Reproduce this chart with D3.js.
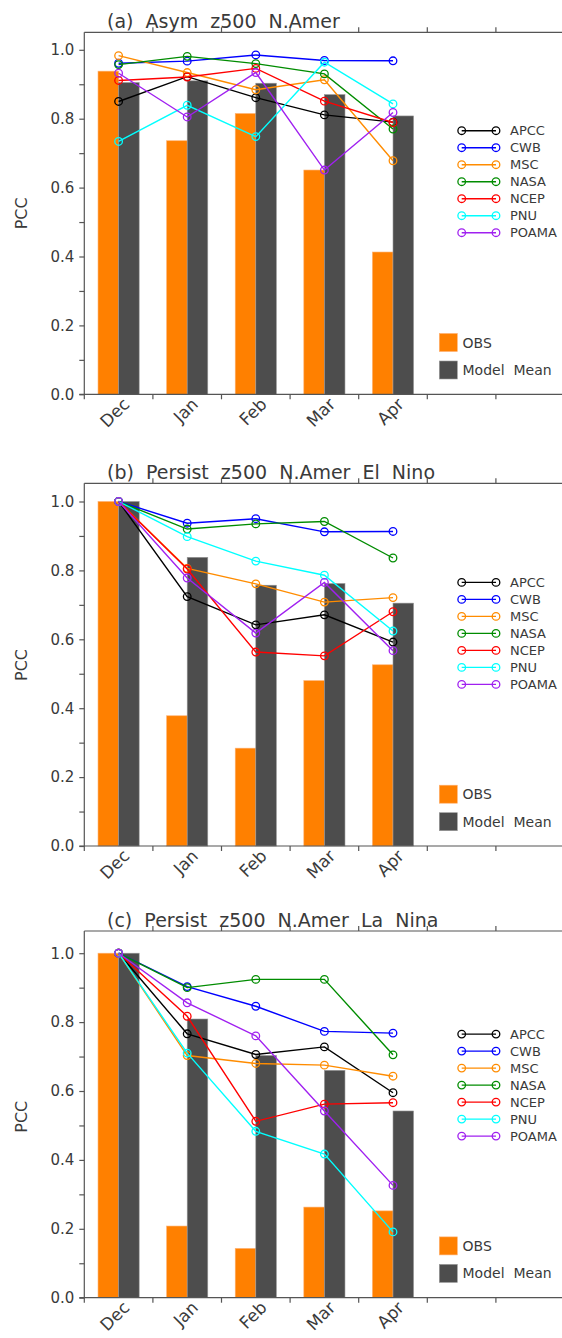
<!DOCTYPE html>
<html>
<head>
<meta charset="utf-8">
<script src="https://cdn.jsdelivr.net/npm/d3@7"></script>
<style>
  body { margin: 0; background: #fff; }
  text { font-family: "DejaVu Sans", sans-serif; white-space: pre; }
</style>
</head>
<body>
<svg id="chart" width="562" height="1338"></svg>
<script>
// months shown, and the empty slots on the right of each panel
var months = ["Dec", "Jan", "Feb", "Mar", "Apr"];
var nSlots = 7;

var models = ["APCC", "CWB", "MSC", "NASA", "NCEP", "PNU", "POAMA"];
var modelColors = ["#000000", "#0000ff", "#ff8c00", "#008c00", "#ff0000", "#00ffff", "#a020f0"];

var titles = [
  "(a)  Asym  z500  N.Amer",
  "(b)  Persist  z500  N.Amer  El  Nino",
  "(c)  Persist  z500  N.Amer  La  Nina"
];

// panel (a)
var obsA = [0.938, 0.736, 0.815, 0.651, 0.413];
var meanA = [0.905, 0.910, 0.903, 0.870, 0.808];
var apccA = [0.850, 0.922, 0.861, 0.811, 0.790];
var cwbA = [0.961, 0.967, 0.985, 0.969, 0.968];
var mscA = [0.983, 0.934, 0.884, 0.913, 0.678];
var nasaA = [0.957, 0.981, 0.960, 0.930, 0.770];
var ncepA = [0.911, 0.921, 0.946, 0.851, 0.789];
var pnuA = [0.734, 0.839, 0.748, 0.964, 0.843];
var poamaA = [0.932, 0.805, 0.934, 0.651, 0.818];

// panel (b)
var obsB = [1.0, 0.378, 0.284, 0.480, 0.526];
var meanB = [1.0, 0.838, 0.757, 0.762, 0.705];
var apccB = [1.0, 0.724, 0.642, 0.671, 0.592];
var cwbB = [1.0, 0.937, 0.950, 0.912, 0.913];
var mscB = [1.0, 0.806, 0.761, 0.708, 0.721];
var nasaB = [1.0, 0.920, 0.935, 0.942, 0.836];
var ncepB = [1.0, 0.804, 0.563, 0.552, 0.680];
var pnuB = [1.0, 0.898, 0.827, 0.786, 0.624];
var poamaB = [1.0, 0.778, 0.618, 0.765, 0.567];

// panel (c)
var obsC = [1.0, 0.208, 0.143, 0.263, 0.252];
var meanC = [1.0, 0.809, 0.703, 0.660, 0.542];
var apccC = [1.0, 0.766, 0.706, 0.728, 0.595];
var cwbC = [1.0, 0.903, 0.846, 0.773, 0.768];
var mscC = [1.0, 0.703, 0.680, 0.675, 0.643];
var nasaC = [1.0, 0.900, 0.924, 0.924, 0.705];
var ncepC = [1.0, 0.817, 0.512, 0.562, 0.566];
var pnuC = [1.0, 0.710, 0.483, 0.417, 0.191];
var poamaC = [1.0, 0.856, 0.760, 0.542, 0.326];

var panels = [
  { obs: obsA, mean: meanA, lines: [apccA, cwbA, mscA, nasaA, ncepA, pnuA, poamaA] },
  { obs: obsB, mean: meanB, lines: [apccB, cwbB, mscB, nasaB, ncepB, pnuB, poamaB] },
  { obs: obsC, mean: meanC, lines: [apccC, cwbC, mscC, nasaC, ncepC, pnuC, poamaC] }
];

var svg = d3.select("#chart");
var left = 84.3, right = 564.5;
var tops = [32.3, 483.3, 931];
var bottoms = [394.3, 846, 1297.7];
var unitH = 344.5; // pixels for PCC 0 -> 1
var axisCol = "#555";
var textCol = "#3a3a3a";

var x = d3.scaleBand().domain(d3.range(nSlots)).range([left, right]);
var bw = x.bandwidth() * 0.3;

var line = d3.line()
  .x((d, i) => x(i) + x.bandwidth() / 2);

panels.forEach(function (p, k) {
  var top = tops[k], bottom = bottoms[k];
  var y = d3.scaleLinear().domain([0, 1]).range([bottom, bottom - unitH]);
  var g = svg.append("g");

  // bars
  g.selectAll(".obs").data(p.obs).enter().append("rect")
    .attr("x", (d, i) => x(i) + x.bandwidth() / 2 - bw)
    .attr("y", d => y(d))
    .attr("width", bw)
    .attr("height", d => bottom - y(d))
    .attr("fill", "#ff8000")
    .attr("stroke", "#ffb070").attr("stroke-width", 0.6);
  g.selectAll(".mean").data(p.mean).enter().append("rect")
    .attr("x", (d, i) => x(i) + x.bandwidth() / 2)
    .attr("y", d => y(d))
    .attr("width", bw)
    .attr("height", d => bottom - y(d))
    .attr("fill", "#4d4d4d")
    .attr("stroke", "#999").attr("stroke-width", 0.6);

  // model lines
  p.lines.forEach(function (vals, m) {
    line.y(d => y(d));
    g.append("path")
      .attr("d", line(vals))
      .attr("fill", "none")
      .attr("stroke", modelColors[m])
      .attr("stroke-width", 1.4);
    g.selectAll(".pt" + m).data(vals).enter().append("circle")
      .attr("cx", (d, i) => x(i) + x.bandwidth() / 2)
      .attr("cy", d => y(d))
      .attr("r", 3.8)
      .attr("fill", "none")
      .attr("stroke", modelColors[m])
      .attr("stroke-width", 1.3);
  });

  // frame lines (left, top, bottom)
  g.append("line").attr("x1", left).attr("x2", left).attr("y1", top).attr("y2", bottom + 5)
    .attr("stroke", axisCol).attr("stroke-width", 1.2);
  g.append("line").attr("x1", left - 5).attr("x2", right).attr("y1", bottom).attr("y2", bottom)
    .attr("stroke", axisCol).attr("stroke-width", 1.2);
  g.append("line").attr("x1", left).attr("x2", right).attr("y1", top).attr("y2", top)
    .attr("stroke", axisCol).attr("stroke-width", 1.2);

  // y axis
  var yAxis = d3.axisLeft(y).tickValues(d3.range(0, 1.01, 0.2))
    .tickFormat(d3.format(".1f")).tickSize(5).tickPadding(5);
  var ya = g.append("g").attr("transform", "translate(" + left + ",0)").call(yAxis);
  ya.select(".domain").remove();
  ya.selectAll("line").attr("stroke", axisCol).attr("stroke-width", 1.2);
  ya.selectAll("text").attr("fill", textCol).style("font-size", "15px")
    .style("font-family", "DejaVu Sans, sans-serif");
  var yMinor = d3.axisLeft(y).tickValues(d3.range(0.1, 1.0, 0.2)).tickFormat("").tickSize(5);
  var ym = g.append("g").attr("transform", "translate(" + left + ",0)").call(yMinor);
  ym.select(".domain").remove();
  ym.selectAll("line").attr("stroke", axisCol).attr("stroke-width", 1.2);

  // x ticks at slot boundaries, bottom (down) and top (up)
  var bounds = d3.range(1, nSlots).map(i => x(i));
  g.selectAll(".bt").data(bounds).enter().append("line")
    .attr("x1", d => d).attr("x2", d => d).attr("y1", bottom).attr("y2", bottom + 5)
    .attr("stroke", axisCol).attr("stroke-width", 1.2);
  g.selectAll(".tt").data(bounds).enter().append("line")
    .attr("x1", d => d).attr("x2", d => d).attr("y1", top).attr("y2", top - 5)
    .attr("stroke", axisCol).attr("stroke-width", 1.2);

  // month labels
  g.selectAll(".mlab").data(months).enter().append("text")
    .attr("transform", (d, i) => "translate(" + (x(i) + x.bandwidth() / 2 + 12) + "," + (bottom + 11) + ") rotate(-45)")
    .attr("text-anchor", "end")
    .attr("fill", textCol)
    .style("font-size", "17px")
    .text(d => d);

  // y title
  g.append("text")
    .attr("transform", "translate(27," + (bottom - 181) + ") rotate(-90)")
    .attr("text-anchor", "middle")
    .attr("fill", textCol)
    .style("font-size", "16px")
    .text("PCC");

  // panel title
  g.append("text")
    .attr("x", 107)
    .attr("y", top - 4)
    .attr("fill", textCol)
    .style("font-size", "19px")
    .text(titles[k]);

  // model legend
  var lg = g.append("g").attr("transform", "translate(0," + (bottom - 263.6) + ")");
  models.forEach(function (name, m) {
    var yy = m * 17;
    lg.append("line").attr("x1", 461.7).attr("x2", 496).attr("y1", yy).attr("y2", yy)
      .attr("stroke", modelColors[m]).attr("stroke-width", 1.4);
    [461.7, 496].forEach(function (cx) {
      lg.append("circle").attr("cx", cx).attr("cy", yy).attr("r", 3.8)
        .attr("fill", "none").attr("stroke", modelColors[m]).attr("stroke-width", 1.3);
    });
    lg.append("text").attr("x", 510).attr("y", yy).attr("dy", "0.36em")
      .attr("fill", textCol).style("font-size", "13px").text(name);
  });

  // bar legend
  var bl = g.append("g").attr("transform", "translate(0," + (bottom - 51.8) + ")");
  [["OBS", "#ff8000", "#ffb070"], ["Model  Mean", "#4d4d4d", "#999"]].forEach(function (it, j) {
    var yy = j * 27.5;
    bl.append("rect").attr("x", 439.3).attr("y", yy - 9).attr("width", 18).attr("height", 18)
      .attr("fill", it[1]).attr("stroke", it[2]).attr("stroke-width", 0.6);
    bl.append("text").attr("x", 462.5).attr("y", yy).attr("dy", "0.36em")
      .attr("fill", textCol).style("font-size", "14px").text(it[0]);
  });
});
</script>
</body>
</html>
